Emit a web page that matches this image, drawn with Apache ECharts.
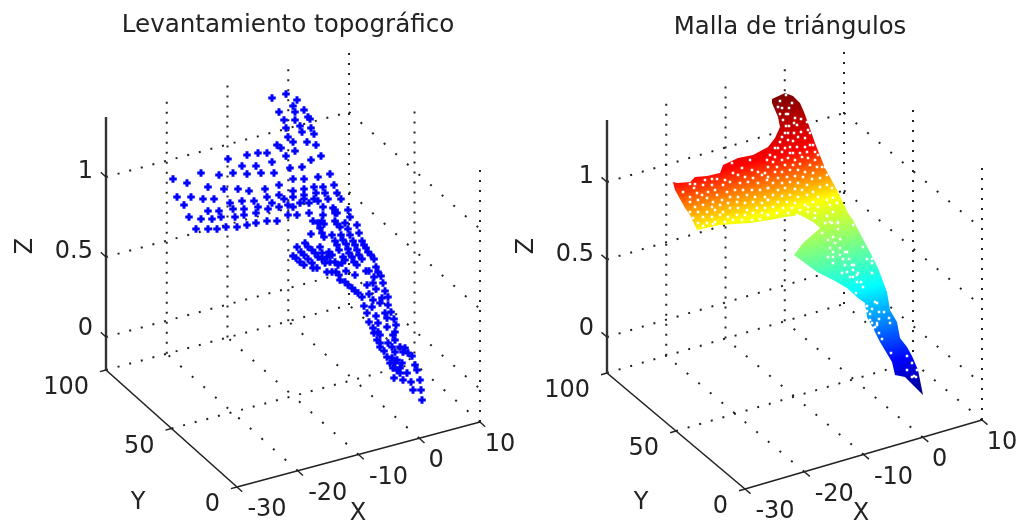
<!DOCTYPE html>
<html><head><meta charset="utf-8">
<style>html,body{margin:0;padding:0;background:#fff}#c{width:1020px;height:522px;filter:blur(.4px)}</style>
<script src="https://cdn.jsdelivr.net/npm/echarts@6/dist/echarts.min.js"></script>
</head><body><div id="c"></div>
<script>
// Axis ticks and labels (data units)
const xTicks=[-30,-20,-10,0,10];
const yTicks=[0,50,100];
const zTicks=[0,0.5,1];
const titles=['Levantamiento topográfico','Malla de triángulos'];
// Survey points (projected picture units)
const surveyPoints=[[272,98],[286,94],[297,100],[293,106],[304,110],[279,112],[295,112],[308,117],[284,120],[295,120],[310,119],[300,126],[311,128],[286,128],[302,132],[314,134],[288,137],[293,142],[307,142],[316,145],[277,145],[281,148],[295,151],[286,156],[267,153],[258,153],[247,155],[228,159],[272,162],[321,156],[311,160],[302,167],[290,168],[242,166],[256,166],[261,173],[247,174],[233,173],[219,175],[201,173],[274,173],[173,179],[187,183],[293,179],[304,179],[318,177],[330,174],[279,185],[208,187],[224,189],[238,189],[249,191],[265,189],[293,191],[304,189],[314,187],[323,187],[334,185],[177,197],[191,197],[203,199],[214,199],[267,197],[279,195],[284,199],[293,197],[304,195],[316,193],[325,193],[328,199],[314,199],[304,199],[184,205],[230,203],[242,201],[254,201],[272,203],[288,205],[300,203],[309,203],[318,201],[337,193],[341,199],[233,209],[244,209],[258,207],[279,207],[293,207],[208,211],[219,211],[256,213],[268,209],[288,215],[297,215],[309,213],[323,207],[189,217],[201,219],[212,219],[221,217],[235,217],[244,215],[323,215],[335,210],[337,213],[196,229],[208,229],[217,229],[226,227],[237,227],[247,225],[256,223],[267,221],[277,221],
[348,210],[350,217],[345,223],[357,225],[359,233],[348,229],[333,208],[335,213],[313,221],[318,223],[322,221],[324,224],[320,228],[322,233],[324,237],[335,221],[337,224],[340,227],[311,234],[332,235],[341,235],[350,235],[335,241],[337,245],[339,250],[343,240],[346,244],[348,249],[349,253],[353,241],[355,245],[357,250],[359,255],[362,259],[362,241],[364,245],[366,248],[368,252],[371,255],[374,259],[305,243],[308,247],[312,250],[315,253],[318,257],[322,259],[297,247],[301,252],[304,255],[308,259],[312,263],[293,256],[296,258],[300,262],[304,265],[313,268],[317,268],[320,247],[329,252],[332,255],[322,253],[327,257],[325,263],[330,262],[335,262],[338,265],[343,257],[345,260],[352,257],[354,262],[357,265],[342,263],[376,267],[378,272],[381,276],[366,271],[369,271],[327,272],[332,272],[336,272],[339,275],[340,280],[346,271],[355,275],[374,277],[367,285],[373,283],[383,283],[345,282],[348,285],[352,288],[355,291],[358,293],[362,297],[369,294],[376,289],[385,291],[388,297],[373,300],[382,298],[380,303],[364,306],[372,307],[388,305],[391,312],[367,313],[376,316],[385,313],[369,322],[378,323],[387,318],[394,319],[396,325],[373,328],[378,332],[387,327],[395,332],[374,333],[380,335],[393,335],[377,340],[380,343],[388,343],[395,340],[380,347],[384,351],[392,347],[400,347],[405,348],[403,352],[408,353],[412,356],[395,352],[387,357],[392,358],[397,360],[390,363],[395,363],[393,368],[402,363],[400,368],[415,365],[417,370],[397,370],[407,373],[400,373],[394,378],[403,380],[411,382],[420,380],[413,390],[421,390],[422,400]];
// Outline of the triangle mesh
const meshOutline=[[785,93],[793,96],[800,103],[804,112],[808,123],[815,143],[825,168],[837,190],[848,213],[853,220],[862,237],[870,252],[878,268],[887,292],[890,310],[897,322],[900,338],[907,347],[912,356],[918,370],[923,395],[918,390],[905,377],[895,375],[892,362],[880,342],[873,328],[867,317],[865,303],[858,298],[847,288],[833,280],[817,272],[794,255],[803,243],[818,230],[820,228],[813,222],[800,215],[785,217],[770,220],[750,223],[720,225],[697,230],[690,215],[685,208],[675,190],[673,182],[677,183],[690,182],[695,177],[707,176],[720,173],[723,165],[738,158],[753,155],[768,147],[775,138],[780,127],[778,117],[772,103],[772,99]];
// Mesh vertices that show as light dots
const meshDots=[[780,101],[786,95],[778,107],[782,108],[792,103],[786,114],[788,114],[780,114],[789,108],[795,118],[783,120],[801,119],[789,126],[786,126],[794,123],[797,125],[807,122],[808,130],[788,133],[785,133],[798,137],[794,133],[782,137],[780,142],[788,140],[793,141],[801,132],[805,138],[810,133],[810,145],[813,145],[775,148],[778,148],[785,148],[790,147],[797,147],[805,147],[770,155],[775,157],[782,152],[790,153],[793,153],[800,153],[807,152],[815,152],[818,155],[767,160],[773,162],[782,160],[788,158],[795,160],[802,157],[808,158],[815,160],[822,167],[825,167],[768,167],[777,167],[785,165],[793,165],[800,164],[810,165],[817,167],[775,172],[782,172],[790,170],[798,170],[805,172],[813,173],[827,175],[768,177],[778,178],[787,177],[795,176],[803,177],[812,179],[820,178],[773,183],[782,183],[790,182],[798,183],[807,185],[820,187],[827,185],[768,188],[778,190],[785,188],[795,189],[802,190],[813,192],[832,188],[773,195],[782,196],[790,195],[798,197],[807,195],[818,197],[833,198],[768,200],[778,202],[787,202],[795,203],[805,205],[813,202],[827,200],[773,207],[783,208],[792,208],[800,210],[808,207],[818,207],[830,205],[837,203],[777,213],[788,213],[797,215],[808,212],[815,213],[827,216],[833,212],[768,215],[830,222],[815,218],[838,222],
[690,184],[695,184],[705,180],[712,179],[717,179],[725,180],[733,173],[742,168],[750,160],[732,163],[752,170],[758,172],[765,173],[738,175],[745,177],[753,178],[762,175],[683,192],[694,188],[703,185],[712,185],[715,190],[723,185],[730,182],[740,183],[748,182],[758,183],[767,180],[690,197],[697,193],[702,195],[708,192],[717,195],[727,192],[735,190],[743,190],[752,190],[760,190],[768,188],[690,202],[698,200],[707,198],[713,202],[722,200],[730,197],[738,197],[747,195],[755,197],[765,197],[695,207],[703,205],[712,207],[720,205],[728,203],[737,202],[745,203],[753,202],[762,203],[768,200],[690,212],[698,212],[707,212],[715,210],[723,212],[730,208],[738,208],[747,210],[757,208],[765,208],[693,218],[703,217],[712,217],[720,215],[728,217],[737,215],[745,215],[753,213],[762,213],[768,215],[698,223],[707,223],[715,222],[725,222],[733,220],[742,220],[752,220],[760,219],[703,226],[713,224],
[825,223],[832,223],[838,223],[853,225],[838,229],[822,233],[833,237],[828,240],[840,239],[835,243],[830,248],[840,248],[833,252],[845,252],[847,252],[840,255],[833,257],[828,257],[843,259],[849,259],[863,247],[867,259],[872,259],[833,263],[845,265],[852,265],[854,265],[872,263],[853,270],[847,272],[842,273],[858,273],[857,275],[850,277],[853,277],[857,282],[861,282],[872,273],[856,293],[863,287],[875,302],[877,303],[867,306],[872,309],[867,311],[879,312],[884,312],[870,314],[870,320],[879,319],[889,318],[890,323],[872,323],[877,323],[875,327],[877,325],[873,328],[879,333],[882,339],[891,353],[907,356],[912,363],[907,370],[917,370],[914,376],[912,377],[916,377]];
// Jet colour ramp, stops placed along the mesh height direction
const jetStops=[[0,'#7f0000'],[0.175,'#ff0000'],[0.338,'#ffff00'],[0.632,'#00ffff'],[0.872,'#0000ff'],[1,'#00007f']];
const gradFrom=[785,95], gradTo=[864,412];

// Panel views
const views=[
 {o:[106,370],b:[237,487],r:[480,422],zBase:-33,zUnit:-160,zTop:-253,title:[288,26],name:{Z:[26,246],Y:[138,503],X:[358,514]}},
 {o:[607,373],b:[745,489],r:[982,420],zBase:-36,zUnit:-155,zTop:-253,title:[790,28],name:{Z:[527,246],Y:[641,503],X:[861,514]}}
];
function proj(v,x,y,z){
 const fx=(x+30)/40, fy=(100-y)/100;
 const zo = z==='min'?0 : z==='max'? v.zTop : v.zBase+v.zUnit*z;
 return [v.o[0]+fx*(v.r[0]-v.b[0])+fy*(v.b[0]-v.o[0]),
         v.o[1]+fx*(v.r[1]-v.b[1])+fy*(v.b[1]-v.o[1])+zo];
}
const series=[];
function line(pts,opt){series.push({type:'line',data:pts,symbol:'none',silent:true,animation:false,z:opt.z,lineStyle:{color:opt.c,width:opt.w,type:opt.t||'solid',cap:opt.cap||'butt'}});}
function dotted(a,b){
 const dx=b[0]-a[0],dy=b[1]-a[1];
 const per=Math.abs(dx)<1?10:11.6*Math.hypot(dx,dy)/Math.abs(dx);
 line([a,b],{z:1,c:'#222',w:2,t:[2,per-2]});
}
const texts=[];
function txt(s,p,align,rot,size){texts.push({type:'text',z:10,x:p[0],y:p[1],rotation:rot||0,style:{text:s,font:(size||24)+'px "DejaVu Sans"',fill:'#222',align:align||'center',verticalAlign:'middle'}});}
views.forEach((v,i)=>{
 // walls
 xTicks.forEach(x=>{ if(x>-30) dotted(proj(v,x,100,'min'),proj(v,x,100,'max')); if(x>-30) dotted(proj(v,x,0,'min'),proj(v,x,100,'min')); });
 yTicks.forEach(y=>{ if(y<100) dotted(proj(v,10,y,'min'),proj(v,10,y,'max')); if(y>0) dotted(proj(v,-30,y,'min'),proj(v,10,y,'min')); });
 zTicks.forEach(z=>{ dotted(proj(v,-30,100,z),proj(v,10,100,z)); dotted(proj(v,10,100,z),proj(v,10,0,z)); });
 // axes
 const ax={z:6,c:'#222',w:1.6};
 line([proj(v,-30,0,'min'),proj(v,10,0,'min')],ax);
 line([proj(v,-30,0,'min'),proj(v,-30,100,'min')],ax);
 line([proj(v,-30,100,'min'),proj(v,-30,100,'max')],{z:6,c:'#333',w:2.4});
 const tk={z:6,c:'#222',w:1.4};
 xTicks.forEach(x=>line([proj(v,x,0,'min'),proj(v,x,-4,'min')],tk));
 yTicks.forEach(y=>line([proj(v,-30,y,'min'),proj(v,-31,y,'min')],tk));
 zTicks.forEach(z=>line([proj(v,-30,100,z),proj(v,-30,104,z)],tk));
 // labels
 xTicks.forEach(x=>{const p=proj(v,x,0,'min');txt(String(x),[p[0]+(x<0?30:(x>0?20:17)),p[1]+23]);});
 yTicks.forEach(y=>{const p=proj(v,-30,y,'min');txt(String(y),[p[0]-17,p[1]+18],'right');});
 zTicks.forEach(z=>{const p=proj(v,-30,100,z);txt(String(z),[p[0]-13,p[1]-(z>0?5:8)],'right');});
 txt('X',v.name.X); txt('Y',v.name.Y); txt('Z',v.name.Z,'center',Math.PI/2);
 txt(titles[i],v.title,'center',0,i?24.4:24.6);
});
series.push({type:'scatter',data:surveyPoints,z:3,silent:true,animation:false,symbol:'path://M2.4,0H5.6V2.4H8V5.6H5.6V8H2.4V5.6H0V2.4H2.4Z',symbolSize:7.5,itemStyle:{color:'#0000ff',opacity:1}});
series.push({type:'custom',z:2,silent:true,animation:false,clip:false,coordinateSystem:'cartesian2d',data:[[0,0]],renderItem:(p,api)=>{
 const a=api.coord(gradFrom),b=api.coord(gradTo);
 return {type:'polygon',shape:{points:meshOutline.map(q=>api.coord(q))},style:{fill:new echarts.graphic.LinearGradient(a[0],a[1],b[0],b[1],jetStops.map(s=>({offset:s[0],color:s[1]})),true)}};
}});
series.push({type:'scatter',data:meshDots,z:4,silent:true,animation:false,symbol:'rect',symbolSize:2.5,itemStyle:{color:'#ffffff',opacity:1}});
const chart=echarts.init(document.getElementById('c'),null,{renderer:'canvas'});
chart.setOption({animation:false,backgroundColor:'#fff',
 grid:{left:0,right:0,top:0,bottom:0},
 xAxis:{type:'value',min:0,max:1020,show:false},
 yAxis:{type:'value',min:0,max:522,inverse:true,show:false},
 series,graphic:{elements:texts}});
</script></body></html>
